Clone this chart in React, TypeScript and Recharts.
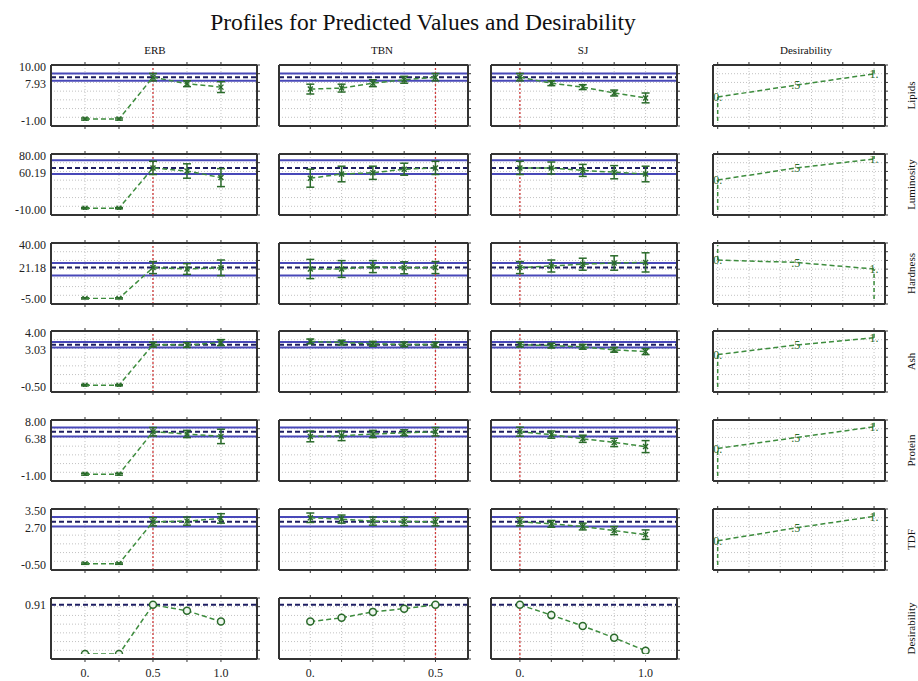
import React from "react";
import {
  ComposedChart,
  Line,
  XAxis,
  YAxis,
  CartesianGrid,
  ReferenceLine,
  ErrorBar,
} from "recharts";

// ---------------- data ----------------
const TITLE = "Profiles for Predicted Values and Desirability";
const RESPONSES = ["Lipids", "Luminosity", "Hardness", "Ash", "Protein", "TDF", "Desirability"];
const FACTORS = ["ERB", "TBN", "SJ"];
const DESIR_HEADER = "Desirability";

const ERB_X = [0, 0.25, 0.5, 0.75, 1];
const TBN_X = [0, 0.125, 0.25, 0.375, 0.5];
const SJ_X = [0, 0.25, 0.5, 0.75, 1];
const ERB_TICK_LABELS = ["0.", "", "0.5", "", "1.0"];
const TBN_TICK_LABELS = ["0.", "", "", "", "0.5"];
const SJ_TICK_LABELS = ["0.", "", "", "", "1.0"];
const CURRENT_SETTING = [0.5, 0.5, 0];

const Y_MIN = [-1, -10, -5, -0.5, -1, -0.5, 0];
const Y_MAX = [10, 80, 40, 4, 8, 3.5, 1];
const Y_CURRENT = [7.93, 60.19, 21.18, 3.03, 6.38, 2.7, 0.91];
const CI_LOW = [7.2, 50, 14.5, 2.8, 5.6, 2.35];
const CI_HIGH = [8.7, 73, 25, 3.25, 7.1, 3.05];

const ERB_PRED = [
  [-0.6, -0.6, 7.93, 6.6, 5.9],
  [-7, -7, 60.19, 55, 44],
  [-4.5, -4.5, 21.18, 20, 21],
  [-0.35, -0.35, 3.03, 3.0, 3.2],
  [-0.7, -0.7, 6.38, 6.0, 5.6],
  [-0.4, -0.4, 2.7, 2.75, 2.95],
  [0, 0, 0.91, 0.8, 0.6],
];
const ERB_ERR = [
  [0.2, 0.2, 0.75, 0.6, 1.1],
  [1, 1, 11, 12, 15],
  [0.5, 0.5, 5, 4.5, 6.5],
  [0.05, 0.05, 0.2, 0.2, 0.25],
  [0.15, 0.15, 0.7, 0.6, 1.2],
  [0.05, 0.05, 0.3, 0.3, 0.35],
  null,
];
const TBN_PRED = [
  [5.5, 5.7, 6.7, 7.4, 7.93],
  [43, 50, 52, 58, 60.19],
  [20, 20, 22, 21, 21.18],
  [3.3, 3.2, 3.1, 3.05, 3.03],
  [5.6, 5.7, 6.0, 6.2, 6.38],
  [3.0, 2.9, 2.75, 2.72, 2.7],
  [0.6, 0.67, 0.78, 0.84, 0.91],
];
const TBN_ERR = [
  [1.0, 0.8, 0.7, 0.7, 0.75],
  [15, 13, 11, 10, 11],
  [8, 7, 5, 5, 5],
  [0.2, 0.2, 0.2, 0.2, 0.2],
  [0.9, 0.8, 0.6, 0.5, 0.7],
  [0.35, 0.3, 0.3, 0.3, 0.3],
  null,
];
const SJ_PRED = [
  [7.93, 6.7, 5.9, 4.7, 3.7],
  [60.19, 60, 56, 53, 50],
  [21.18, 22.5, 24, 25, 25.5],
  [3.03, 2.95, 2.85, 2.6, 2.45],
  [6.38, 5.9, 5.2, 4.6, 3.9],
  [2.7, 2.55, 2.35, 2.05, 1.75],
  [0.91, 0.72, 0.52, 0.3, 0.06],
];
const SJ_ERR = [
  [0.75, 0.5, 0.5, 0.6, 1.0],
  [11, 10, 10, 11, 13],
  [5, 5, 5, 6, 8],
  [0.2, 0.2, 0.2, 0.2, 0.25],
  [0.75, 0.6, 0.6, 0.7, 1.0],
  [0.3, 0.25, 0.25, 0.3, 0.35],
  null,
];

const DESIR_LEVELS = [0, 0.5, 1];
const DESIR_MARKS = ["0.", ".5", "1."];
const DESIR_TICKS = [0, 0.2, 0.4, 0.6, 0.8, 1];
const DESIR_RESPONSE = [
  [3.9, 6.3, 8.6],
  [40, 60, 75],
  [27.5, 25.5, 20],
  [2.2, 3.0, 3.6],
  [3.6, 5.4, 7.2],
  [1.3, 2.25, 3.1],
];
const GRID_STEPS = [0, 1, 2, 3, 4, 5, 6, 7];

// ---------------- layout / style ----------------
const FONT = "'Liberation Serif', 'Times New Roman', Times, serif";
const GREEN = "#3d8c3d";
const GREEN_DARK = "#2a6a2a";
const BLUE = "#4848b8";
const NAVY = "#1e1e62";
const RED = "#d03c3c";
const GRID = "#c2c2c2";
const FRAME = "#333333";

const COL_LEFT = [51, 279, 491, 713];
const COL_W = [206, 189, 186, 172];
const ROW_TOP0 = 65;
const ROW_STEP = 88.8;
const BOX_H = 61;
const HEADER_X = [155, 382, 583, 806];
const FACTOR_DOMAIN = [
  [-0.25, 1.265],
  [-0.125, 0.63],
  [-0.23, 1.25],
];
const DESIR_DOMAIN = [-0.03, 1.07];

const FACTOR_X = [ERB_X, TBN_X, SJ_X];
const FACTOR_TICK_LABELS = [ERB_TICK_LABELS, TBN_TICK_LABELS, SJ_TICK_LABELS];
const FACTOR_PRED = [ERB_PRED, TBN_PRED, SJ_PRED];
const FACTOR_ERR = [ERB_ERR, TBN_ERR, SJ_ERR];

const emptyTick = (props: any) => <g key={`et${props.index}`} />;

const gridRows = ({ offset }: any) =>
  GRID_STEPS.slice(1, -1).map((s) => offset.top + (offset.height * s) / (GRID_STEPS.length - 1));

function Panel({ r, c }: { r: number; c: number }) {
  const isDes = c === 3;
  const lastRow = r === RESPONSES.length - 1;
  const left = COL_LEFT[c];
  const top = Math.round(ROW_TOP0 + ROW_STEP * r);
  const w = COL_W[c];
  const h = BOX_H;
  const ML = c === 0 ? 50 : 3;
  const MR = 4;
  const MT = 4;
  const MB = lastRow ? 26 : 4;
  const W = ML + 1 + w + 1 + MR;
  const H = MT + 1 + h + 1 + MB;
  const plotTop = MT + 1;

  const yMin = Y_MIN[r];
  const yMax = Y_MAX[r];
  const cur = Y_CURRENT[r];
  const yTicks = lastRow ? [cur] : [yMin, cur, yMax];

  const xs = isDes ? DESIR_TICKS : FACTOR_X[c];
  const dom = isDes ? DESIR_DOMAIN : FACTOR_DOMAIN[c];

  const gridCols = ({ offset }: any) =>
    xs.map((v) => offset.left + ((v - dom[0]) / (dom[1] - dom[0])) * offset.width);

  let data: any[];
  if (isDes) {
    const d = DESIR_RESPONSE[r];
    data = DESIR_LEVELS.map((x, i) => ({ x, y: d[i], m: DESIR_MARKS[i] }));
  } else {
    const preds = FACTOR_PRED[c][r];
    const errs = FACTOR_ERR[c][r];
    data = FACTOR_X[c].map((x, i) => ({ x, y: preds[i], e: errs ? errs[i] : 0 }));
  }

  const yTick = (props: any) => {
    const { x, y, payload, index } = props;
    if (c !== 0) return <g key={`yt${index}`} />;
    let yy = y;
    if (payload.value === cur && !lastRow) yy = Math.max(y, plotTop + 19);
    return (
      <text key={`yt${index}`} x={x} y={yy} dy="0.35em" textAnchor="end" fontFamily={FONT} fontSize={12} fill="#222">
        {Number(payload.value).toFixed(2)}
      </text>
    );
  };

  const xTick = (props: any) => {
    const { x, y, payload, index } = props;
    const idx = FACTOR_X[c].indexOf(payload.value);
    const lab = idx >= 0 ? FACTOR_TICK_LABELS[c][idx] : "";
    if (!lab) return <g key={`xt${index}`} />;
    return (
      <text key={`xt${index}`} x={x} y={y + 13} textAnchor="middle" fontFamily={FONT} fontSize={12} fill="#222">
        {lab}
      </text>
    );
  };

  const factorDot = (props: any) => {
    const { cx, cy, index } = props;
    if (cx == null || cy == null) return <g key={`d${index}`} />;
    if (lastRow) {
      return (
        <circle key={`d${index}`} cx={cx} cy={cy} r={3.5} fill="#eef6ee" stroke={GREEN_DARK} strokeWidth={1.5} />
      );
    }
    return (
      <g key={`d${index}`} stroke={GREEN_DARK} strokeWidth={1.4}>
        <line x1={cx - 2.5} y1={cy - 2.5} x2={cx + 2.5} y2={cy + 2.5} />
        <line x1={cx - 2.5} y1={cy + 2.5} x2={cx + 2.5} y2={cy - 2.5} />
      </g>
    );
  };

  const desDot = (props: any) => {
    const { cx, cy, index, payload } = props;
    if (cx == null || cy == null) return <g key={`m${index}`} />;
    return (
      <text key={`m${index}`} x={cx} y={cy} dy="0.35em" textAnchor="middle" fontFamily={FONT} fontSize={12} fill={GREEN_DARK}>
        {payload.m}
      </text>
    );
  };

  let segs: any[] = [];
  if (isDes) {
    const d = DESIR_RESPONSE[r];
    const rising = d[0] < d[2];
    segs = rising
      ? [
          [{ x: 0, y: yMin }, { x: 0, y: d[0] }],
          [{ x: 1, y: d[2] }, { x: 1, y: yMax }],
        ]
      : [
          [{ x: 0, y: d[0] }, { x: 0, y: yMax }],
          [{ x: 1, y: yMin }, { x: 1, y: d[2] }],
        ];
  }

  return (
    <div style={{ position: "absolute", left: left - ML - 1, top: top - MT - 1 }}>
      <ComposedChart width={W} height={H} data={data} margin={{ top: MT, right: MR, bottom: MB, left: ML }}>
        <CartesianGrid
          xAxisId="b"
          yAxisId="g"
          stroke={GRID}
          strokeDasharray="1 2"
          horizontalCoordinatesGenerator={gridRows}
          verticalCoordinatesGenerator={gridCols}
        />
        <XAxis
          xAxisId="b"
          type="number"
          dataKey="x"
          domain={dom}
          ticks={xs}
          interval={0}
          allowDataOverflow
          orientation="bottom"
          height={1}
          axisLine={{ stroke: FRAME, strokeWidth: 2 }}
          tickLine={{ stroke: FRAME }}
          tickSize={3}
          tickMargin={2}
          tick={lastRow && !isDes ? xTick : emptyTick}
        />
        <XAxis
          xAxisId="t"
          type="number"
          dataKey="x"
          domain={dom}
          ticks={xs}
          interval={0}
          allowDataOverflow
          orientation="top"
          height={1}
          axisLine={{ stroke: FRAME, strokeWidth: 2 }}
          tickLine={{ stroke: FRAME }}
          tickSize={3}
          tick={emptyTick}
        />
        <YAxis
          yAxisId="v"
          type="number"
          domain={[yMin, yMax]}
          ticks={yTicks}
          interval={0}
          allowDataOverflow
          orientation="left"
          width={1}
          padding={{ top: 2, bottom: 5 }}
          axisLine={{ stroke: FRAME, strokeWidth: 2 }}
          tickLine={false}
          tickSize={3}
          tickMargin={2}
          tick={yTick}
        />
        <YAxis
          yAxisId="g"
          type="number"
          domain={[0, 7]}
          ticks={GRID_STEPS}
          interval={0}
          allowDataOverflow
          orientation="right"
          width={1}
          axisLine={{ stroke: FRAME, strokeWidth: 2 }}
          tickLine={{ stroke: FRAME }}
          tickSize={3}
          tick={emptyTick}
        />
        {!isDes && !lastRow && (
          <ReferenceLine xAxisId="b" yAxisId="v" y={CI_LOW[r]} stroke={BLUE} strokeWidth={2} />
        )}
        {!isDes && !lastRow && (
          <ReferenceLine xAxisId="b" yAxisId="v" y={CI_HIGH[r]} stroke={BLUE} strokeWidth={2} />
        )}
        {!isDes && (
          <ReferenceLine xAxisId="b" yAxisId="v" y={cur} stroke={NAVY} strokeWidth={2} strokeDasharray="5 3" />
        )}
        {!isDes && (
          <ReferenceLine
            xAxisId="b"
            yAxisId="v"
            x={CURRENT_SETTING[c]}
            stroke={RED}
            strokeWidth={1.3}
            strokeDasharray="2 2"
          />
        )}
        {isDes &&
          segs.map((s, i) => (
            <ReferenceLine
              key={`s${i}`}
              xAxisId="b"
              yAxisId="v"
              segment={s}
              stroke={GREEN}
              strokeWidth={1.5}
              strokeDasharray="4 3"
            />
          ))}
        <Line
          xAxisId="b"
          yAxisId="v"
          type="linear"
          dataKey="y"
          stroke={GREEN}
          strokeWidth={1.5}
          strokeDasharray="5 3"
          dot={isDes ? desDot : factorDot}
          activeDot={false}
          isAnimationActive={false}
        >
          {!isDes && !lastRow && (
            <ErrorBar dataKey="e" width={4} stroke={GREEN_DARK} strokeWidth={1.5} direction="y" isAnimationActive={false} />
          )}
        </Line>
      </ComposedChart>
    </div>
  );
}

export default function App() {
  const panels: React.ReactNode[] = [];
  RESPONSES.forEach((_, r) => {
    for (let c = 0; c < 4; c++) {
      if (c === 3 && r === RESPONSES.length - 1) continue;
      panels.push(<Panel key={`${r}-${c}`} r={r} c={c} />);
    }
  });
  const headers = [...FACTORS, DESIR_HEADER];
  return (
    <div
      style={{
        position: "absolute",
        left: 0,
        top: 0,
        width: 918,
        height: 681,
        background: "#fff",
        overflow: "hidden",
        fontFamily: FONT,
      }}
    >
      <svg width={918} height={681} style={{ position: "absolute", left: 0, top: 0 }}>
        <text x={423} y={30} textAnchor="middle" fontFamily={FONT} fontSize={23.5} fill="#111">
          {TITLE}
        </text>
        {headers.map((hd, i) => (
          <text key={hd + i} x={HEADER_X[i]} y={54} textAnchor="middle" fontFamily={FONT} fontSize={11} fill="#111">
            {hd}
          </text>
        ))}
        {RESPONSES.map((name, r) => {
          const cy = Math.round(ROW_TOP0 + ROW_STEP * r) + BOX_H / 2;
          return (
            <text
              key={name + r}
              transform={`translate(911, ${cy}) rotate(-90)`}
              textAnchor="middle"
              dy="0.35em"
              fontFamily={FONT}
              fontSize={11}
              fill="#111"
            >
              {name}
            </text>
          );
        })}
      </svg>
      {panels}
    </div>
  );
}
